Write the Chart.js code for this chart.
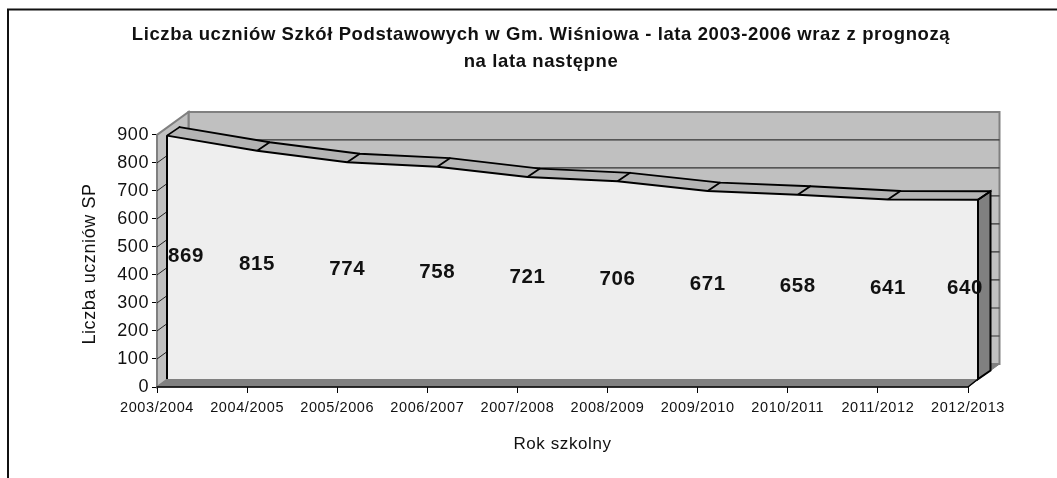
<!DOCTYPE html>
<html lang="pl">
<head>
<meta charset="utf-8">
<title>Liczba uczniów SP</title>
<script src="https://cdn.jsdelivr.net/npm/chart.js@4"></script>
<style>
  html, body { margin: 0; padding: 0; background: #fff; }
  #wrap { width: 1057px; height: 478px; }
</style>
</head>
<body>
<div id="wrap"><canvas id="chart"></canvas></div>
<script>
const categories = ['2003/2004', '2004/2005', '2005/2006', '2006/2007', '2007/2008',
                    '2008/2009', '2009/2010', '2010/2011', '2011/2012', '2012/2013'];
const uczniowie = [869, 815, 774, 758, 721, 706, 671, 658, 641, 640];
const titleLines = ['Liczba uczniów Szkół Podstawowych w Gm. Wiśniowa - lata 2003-2006 wraz z prognozą',
                    'na lata następne'];
const yAxisTitle = 'Liczba uczniów SP';
const xAxisTitle = 'Rok szkolny';
const yTickStep = 100;
const yTop = 900;

const FONT = '"Liberation Sans", Arial, sans-serif';
const PX_PER_INDEX = 811 / 9;
const PX_PER_UNIT = 253 / 900;
const PLOT_W = 843;
const PLOT_H = 276;
// 3D depth in pixels
const WALL = { dx: 31.5, dy: 23 };
const FRONT = { dx: 10, dy: 8 };
const RIBBON = { dx: 12.5, dy: 8.5 };

function poly(ctx, pts, fill, stroke, width) {
    ctx.beginPath();
    pts.forEach((p, i) => i ? ctx.lineTo(p[0], p[1]) : ctx.moveTo(p[0], p[1]));
    ctx.closePath();
    if (fill) { ctx.fillStyle = fill; ctx.fill(); }
    if (stroke) { ctx.strokeStyle = stroke; ctx.lineWidth = width; ctx.stroke(); }
}

function line(ctx, x1, y1, x2, y2, color, width) {
    ctx.beginPath();
    ctx.moveTo(x1, y1);
    ctx.lineTo(x2, y2);
    ctx.strokeStyle = color;
    ctx.lineWidth = width;
    ctx.stroke();
}

function frontPoints(chart) {
    const xs = chart.scales.xFront, ys = chart.scales.yFront;
    return uczniowie.map((v, i) => [xs.getPixelForValue(i), ys.getPixelForValue(v)]);
}

const box3d = {
    id: 'box3d',
    beforeDraw(chart) {
        const ctx = chart.ctx;
        // the original text is set wide, every label inherits this
        ctx.letterSpacing = '0.6px';
        ctx.save();
        line(ctx, 8, 478, 8, 9.5, '#111', 2);
        line(ctx, 7, 9.5, 1057, 9.5, '#111', 2);
        ctx.restore();
    },
    beforeDatasetsDraw(chart) {
        const ctx = chart.ctx, xs = chart.scales.x, ys = chart.scales.y;
        const x0 = xs.getPixelForValue(0), x1 = xs.getPixelForValue(categories.length - 1);
        const y0 = ys.getPixelForValue(0), y1 = ys.getPixelForValue(yTop);
        ctx.save();
        ctx.lineJoin = 'miter';
        // back wall, left wall, floor
        poly(ctx, [[x0 + WALL.dx, y1 - WALL.dy], [x1 + WALL.dx, y1 - WALL.dy],
                   [x1 + WALL.dx, y0 - WALL.dy], [x0 + WALL.dx, y0 - WALL.dy]], '#c0c0c0', '#808080', 2);
        poly(ctx, [[x0, y1], [x0 + WALL.dx, y1 - WALL.dy], [x0 + WALL.dx, y0 - WALL.dy], [x0, y0]],
             '#c0c0c0', '#808080', 2);
        poly(ctx, [[x0, y0], [x0 + WALL.dx, y0 - WALL.dy], [x1 + WALL.dx, y0 - WALL.dy], [x1, y0]],
             '#808080', '#808080', 1);
        // gridlines
        for (let v = yTickStep; v <= yTop - yTickStep; v += yTickStep) {
            const y = ys.getPixelForValue(v);
            line(ctx, x0 + WALL.dx, y - WALL.dy, x1 + WALL.dx, y - WALL.dy, '#333', 1.2);
        }
        for (let v = yTickStep; v < yTop; v += yTickStep) {
            const y = ys.getPixelForValue(v);
            line(ctx, x0, y, x0 + WALL.dx, y - WALL.dy, '#222', 1);
        }
        // series top surface and right side
        const pts = frontPoints(chart);
        const last = pts[pts.length - 1];
        const base = chart.scales.yFront.getPixelForValue(0);
        const back = pts.map(p => [p[0] + RIBBON.dx, p[1] - RIBBON.dy]);
        poly(ctx, [...pts, ...back.slice().reverse()], '#b4b4b4');
        ctx.lineCap = 'round';
        poly(ctx, [last, [last[0] + RIBBON.dx, last[1] - RIBBON.dy],
                   [last[0] + RIBBON.dx, base - RIBBON.dy], [last[0], base]], '#808080', '#000', 2);
        ctx.beginPath();
        back.forEach((p, i) => i ? ctx.lineTo(p[0], p[1]) : ctx.moveTo(p[0], p[1]));
        ctx.strokeStyle = '#000';
        ctx.lineWidth = 1.8;
        ctx.stroke();
        pts.forEach((p, i) => line(ctx, p[0], p[1], back[i][0], back[i][1], '#000', 1.8));
        ctx.restore();
    },
    afterDatasetsDraw(chart) {
        const ctx = chart.ctx, xs = chart.scales.x, ys = chart.scales.y;
        const pts = frontPoints(chart);
        const last = pts[pts.length - 1];
        const base = chart.scales.yFront.getPixelForValue(0);
        const x0 = xs.getPixelForValue(0), x1 = xs.getPixelForValue(categories.length - 1);
        const y0 = ys.getPixelForValue(0), y1 = ys.getPixelForValue(yTop);
        ctx.save();
        line(ctx, pts[0][0], pts[0][1], pts[0][0], base, '#000', 2);
        line(ctx, last[0], last[1], last[0], base, '#000', 2);
        // x axis line and corner
        line(ctx, x0 - 0.5, y0, x1, y0, '#000', 1.6);
        line(ctx, x1, y0, last[0], base, '#000', 1.4);
        // value labels, halfway up the area
        ctx.font = 'bold 20.5px ' + FONT;
        ctx.fillStyle = '#111';
        ctx.textAlign = 'center';
        ctx.textBaseline = 'middle';
        uczniowie.forEach((v, i) => {
            const w = ctx.measureText(String(v)).width;
            let x = pts[i][0];
            if (x - w / 2 < pts[0][0]) x = pts[0][0] + w / 2 + 1;
            if (x + w / 2 > last[0] + 5) x = last[0] + 5 - w / 2;
            ctx.fillText(String(v), x, chart.scales.yFront.getPixelForValue(v / 2) - 1);
        });
        // axis titles are centred on the tick range, not on the whole box
        ctx.font = '17px ' + FONT;
        ctx.fillText(xAxisTitle, (x0 + x1) / 2, 444);
        ctx.translate(90, (y0 + y1) / 2 + 3);
        ctx.rotate(-Math.PI / 2);
        ctx.font = '18px ' + FONT;
        ctx.fillText(yAxisTitle, 0, 0);
        ctx.restore();
    }
};

new Chart(document.getElementById('chart'), {
    type: 'line',
    data: {
        datasets: [{
            label: yAxisTitle,
            data: uczniowie.map((v, i) => ({ x: i, y: v })),
            xAxisID: 'xFront',
            yAxisID: 'yFront',
            borderColor: '#000',
            borderWidth: 2,
            backgroundColor: '#eeeeee',
            fill: { value: 0 },
            tension: 0,
            pointRadius: 0,
            clip: false
        }]
    },
    options: {
        responsive: true,
        maintainAspectRatio: false,
        animation: false,
        layout: { padding: { left: 82, right: 57, top: 0, bottom: 0 } },
        plugins: {
            legend: { display: false },
            tooltip: { enabled: false },
            title: {
                display: true,
                text: titleLines,
                color: '#111',
                font: { family: FONT, size: 18.5, weight: 'bold', lineHeight: 27 / 18.5 },
                padding: { top: 21.5, bottom: 36.5 }
            }
        },
        scales: {
            x: {
                type: 'linear',
                min: 0,
                max: PLOT_W / PX_PER_INDEX,
                afterFit: s => { s.height = 91; },
                grid: { drawOnChartArea: false, tickLength: 6, tickColor: '#000', lineWidth: 1 },
                border: { display: false },
                ticks: {
                    stepSize: 1,
                    includeBounds: false,
                    autoSkip: false,
                    maxRotation: 0,
                    padding: 6,
                    color: '#111',
                    font: { family: FONT, size: 14.5 },
                    callback: v => categories[v]
                }
            },
            y: {
                type: 'linear',
                min: 0,
                max: PLOT_H / PX_PER_UNIT,
                afterFit: s => { s.width = 75; },
                grid: { drawOnChartArea: false, tickLength: 5, tickColor: '#000', lineWidth: 1 },
                border: { display: false },
                ticks: {
                    stepSize: yTickStep,
                    includeBounds: false,
                    padding: 3,
                    color: '#111',
                    font: { family: FONT, size: 18 }
                }
            },
            // hidden scales that push the series forward into the box
            xFront: {
                type: 'linear',
                display: false,
                min: -FRONT.dx / PX_PER_INDEX,
                max: (PLOT_W - FRONT.dx) / PX_PER_INDEX
            },
            yFront: {
                type: 'linear',
                display: false,
                min: -FRONT.dy / PX_PER_UNIT,
                max: (PLOT_H - FRONT.dy) / PX_PER_UNIT
            }
        }
    },
    plugins: [box3d]
});
</script>
</body>
</html>
